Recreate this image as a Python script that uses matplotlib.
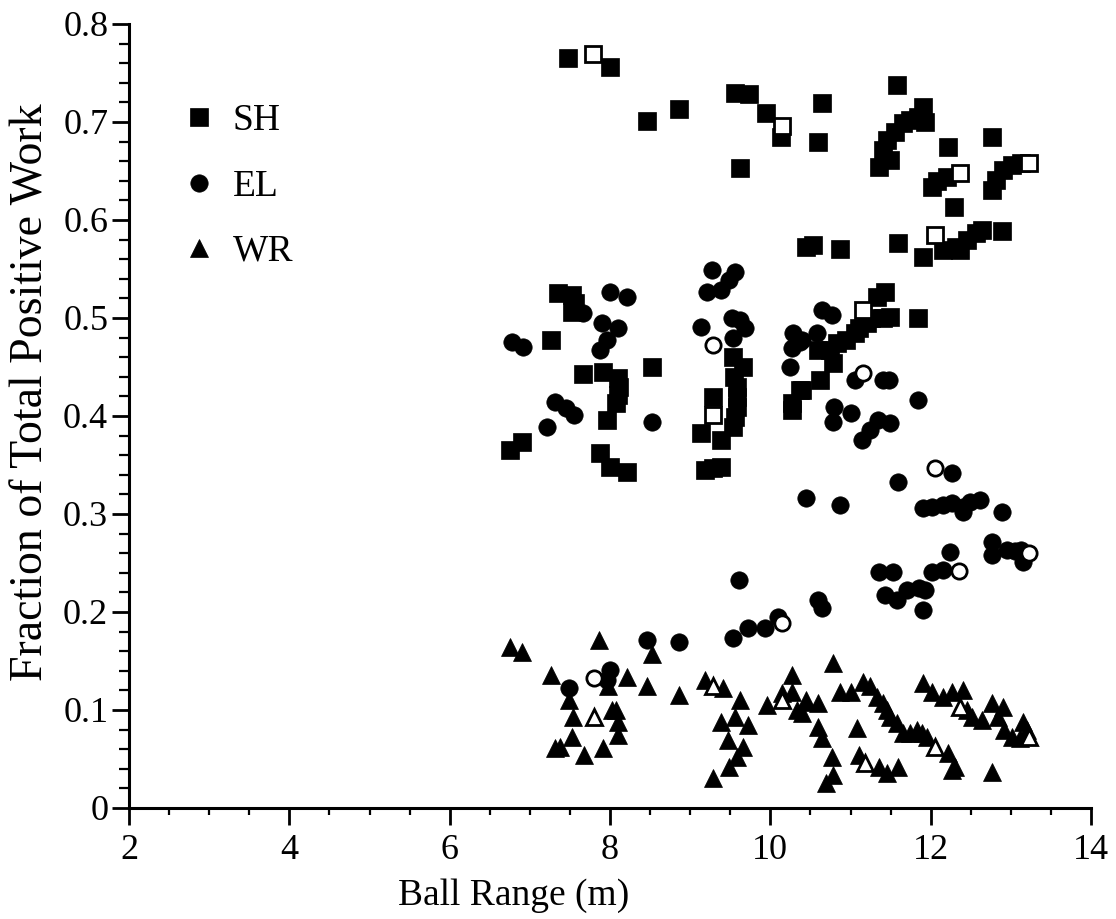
import matplotlib
matplotlib.use('Agg')
import matplotlib.pyplot as plt
from matplotlib.ticker import MultipleLocator

# SH (shoulder) - filled squares
sh_x = [7.47, 8.00, 8.46, 8.86, 9.56, 9.73, 9.94, 10.13, 9.62, 10.65, 10.60, 11.58,
        11.36, 11.49, 11.40, 11.46, 11.55, 11.65, 11.74, 11.84, 11.93, 11.90,
        12.21, 12.76, 12.02, 12.20, 12.08, 12.29,
        12.76, 12.82, 12.90, 13.02, 13.13,
        11.90, 12.15, 12.32, 12.45, 12.57, 12.64, 12.36, 12.89, 11.59,
        10.45, 10.53, 10.87,
        11.43, 11.33, 11.49, 11.84, 11.40, 11.25, 11.20, 11.10, 11.05, 10.95, 10.83, 10.74,
        10.78, 10.62, 10.40, 10.59, 10.37, 10.27, 10.27,
        7.35, 7.52, 7.56, 7.53, 7.26, 7.66, 7.91, 8.10, 8.11, 8.10, 8.08, 7.96, 8.53,
        7.87, 8.00, 8.21, 6.75, 6.90,
        9.53, 9.66, 9.58, 9.58, 9.58, 9.56, 9.53, 9.28, 9.14, 9.39, 9.18, 9.28, 9.39, 9.55]
sh_y = [0.765, 0.756, 0.701, 0.713, 0.730, 0.729, 0.709, 0.685, 0.653, 0.719, 0.680, 0.738,
        0.654, 0.661, 0.671, 0.682, 0.690, 0.699, 0.702, 0.705, 0.700, 0.715,
        0.674, 0.685, 0.634, 0.644, 0.640, 0.613,
        0.631, 0.641, 0.651, 0.656, 0.658,
        0.562, 0.569, 0.572, 0.580, 0.587, 0.590, 0.569, 0.589, 0.577,
        0.572, 0.574, 0.570,
        0.527, 0.521, 0.501, 0.500, 0.500, 0.500, 0.495, 0.490, 0.485, 0.478, 0.474, 0.467,
        0.454, 0.437, 0.427, 0.467, 0.427, 0.413, 0.406,
        0.526, 0.523, 0.515, 0.506, 0.478, 0.443, 0.445, 0.439, 0.430, 0.421, 0.413, 0.396, 0.450,
        0.362, 0.348, 0.343, 0.365, 0.373,
        0.460, 0.450, 0.430, 0.419, 0.409, 0.399, 0.389, 0.419, 0.383, 0.376, 0.345, 0.347, 0.348, 0.440]
sh_open_x = [7.79, 10.15, 12.36, 13.23, 12.05, 11.15, 9.28]
sh_open_y = [0.769, 0.696, 0.648, 0.658, 0.585, 0.508, 0.401]

# EL (elbow) - filled circles
el_x = [6.78, 6.91, 7.21, 7.32, 7.45, 7.55, 8.00, 8.21, 7.66, 7.90, 8.10, 7.96, 7.87, 8.53,
        9.14, 9.52, 9.62, 9.68, 9.53, 9.27, 9.56, 9.21, 9.39, 9.49,
        10.28, 10.37, 10.27, 10.24, 10.65, 10.77, 10.58, 10.40,
        11.05, 11.40, 11.48, 11.84, 10.80, 11.01, 10.78, 11.34, 11.49, 11.24, 11.14,
        12.27, 11.59, 10.45, 10.87, 11.90, 12.02, 12.15, 12.27, 12.40, 12.49, 12.61, 12.40, 12.89,
        12.24, 12.02, 12.15, 12.76, 12.77, 12.95, 13.13, 13.15, 13.05,
        11.36, 11.53, 11.43, 11.58, 11.70, 11.86, 11.93, 11.90, 10.59, 10.65,
        9.61, 9.53, 9.72, 9.93, 10.09, 8.46, 8.86, 8.00, 7.96, 7.49]
el_y = [0.476, 0.470, 0.389, 0.414, 0.408, 0.401, 0.527, 0.521, 0.505, 0.495, 0.490, 0.478, 0.467, 0.394,
        0.491, 0.500, 0.498, 0.490, 0.480, 0.549, 0.547, 0.527, 0.529, 0.539,
        0.485, 0.476, 0.469, 0.450, 0.508, 0.503, 0.485, 0.478,
        0.437, 0.437, 0.437, 0.416, 0.409, 0.403, 0.394, 0.396, 0.393, 0.386, 0.376,
        0.342, 0.333, 0.316, 0.309, 0.306, 0.307, 0.309, 0.311, 0.307, 0.312, 0.314, 0.302, 0.302,
        0.261, 0.241, 0.243, 0.271, 0.258, 0.263, 0.263, 0.251, 0.262,
        0.241, 0.241, 0.217, 0.212, 0.222, 0.224, 0.222, 0.202, 0.212, 0.204,
        0.233, 0.173, 0.184, 0.184, 0.195, 0.171, 0.169, 0.141, 0.131, 0.122]
el_open_x = [9.28, 11.16, 12.05, 12.35, 13.23, 10.14, 7.80]
el_open_y = [0.472, 0.444, 0.347, 0.242, 0.260, 0.189, 0.133]

# WR (wrist) - filled triangles
wr_x = [6.75, 6.90, 7.27, 7.86, 8.53, 8.21, 8.46, 8.86, 7.49, 7.54, 7.97, 8.02, 8.08, 8.10, 8.10,
        7.52, 7.37, 7.31, 7.67, 7.91,
        9.18, 9.41, 9.62, 9.39, 9.56, 9.72, 9.47, 9.66, 9.58, 9.49, 9.28, 9.96,
        10.27, 10.27, 10.14, 10.33, 10.45,
        10.78, 10.87, 11.01, 11.15, 11.24,
        11.33, 11.40, 11.45, 11.49, 11.58, 11.65, 11.74, 11.83, 11.89, 11.95,
        12.21, 12.30, 12.27,
        10.45, 10.59, 10.40, 10.59, 10.65, 10.77, 10.78, 10.70,
        11.08, 11.11, 11.36, 11.45, 11.59,
        11.90, 12.02, 12.15, 12.27, 12.40, 12.45, 12.52, 12.64,
        12.76, 12.90, 12.84, 12.92, 13.02, 13.15, 13.11, 13.20, 12.77]
wr_y = [0.164, 0.159, 0.136, 0.171, 0.157, 0.134, 0.124, 0.115, 0.110, 0.093, 0.124, 0.100, 0.100, 0.088, 0.074,
        0.072, 0.062, 0.061, 0.054, 0.061,
        0.131, 0.122, 0.110, 0.088, 0.093, 0.085, 0.069, 0.062, 0.052, 0.042, 0.031, 0.105,
        0.136, 0.118, 0.117, 0.100, 0.108,
        0.148, 0.118, 0.118, 0.129, 0.124,
        0.113, 0.107, 0.100, 0.093, 0.087, 0.077, 0.077, 0.080, 0.077, 0.072,
        0.056, 0.042, 0.039,
        0.110, 0.107, 0.097, 0.083, 0.071, 0.052, 0.034, 0.026,
        0.082, 0.054, 0.042, 0.036, 0.042,
        0.128, 0.118, 0.113, 0.118, 0.120, 0.100, 0.093, 0.090,
        0.107, 0.103, 0.093, 0.080, 0.072, 0.088, 0.071, 0.080, 0.037]
wr_open_x = [7.80, 9.28, 10.15, 11.18, 12.05, 12.36, 13.23]
wr_open_y = [0.093, 0.124, 0.110, 0.046, 0.062, 0.103, 0.072]

plt.rcParams['font.family'] = ['Liberation Serif', 'DejaVu Serif']

fig = plt.figure(figsize=(11.16, 9.19), dpi=100)
ax = fig.add_axes([0.1156, 0.1208, 0.862, 0.8531])

ms = 12.5
ax.plot(sh_x, sh_y, 's', color='black', ms=ms, mew=0.5, ls='none', label='SH')
ax.plot(el_x, el_y, 'o', color='black', ms=ms, mew=0.5, ls='none', label='EL')
ax.plot(wr_x, wr_y, '^', color='black', ms=ms, mew=0.5, ls='none', label='WR')
ax.plot(sh_open_x, sh_open_y, 's', mfc='white', mec='black', ms=ms - 1.5, mew=2, ls='none')
ax.plot(el_open_x, el_open_y, 'o', mfc='white', mec='black', ms=ms - 1.5, mew=2, ls='none')
ax.plot(wr_open_x, wr_open_y, '^', mfc='white', mec='black', ms=ms - 1.5, mew=2, ls='none')

ax.set_xlim(2, 14)
ax.set_ylim(0, 0.8)
ax.set_xticks([2, 4, 6, 8, 10, 12, 14])
ax.set_yticks([0, 0.1, 0.2, 0.3, 0.4, 0.5, 0.6, 0.7, 0.8])
ax.set_yticklabels(['0', '0.1', '0.2', '0.3', '0.4', '0.5', '0.6', '0.7', '0.8'])
ax.xaxis.set_minor_locator(MultipleLocator(0.5))
ax.yaxis.set_minor_locator(MultipleLocator(0.02))

for s in ['top', 'right']:
    ax.spines[s].set_visible(False)
for s in ['left', 'bottom']:
    ax.spines[s].set_linewidth(2.2)

ax.tick_params(axis='both', which='major', direction='out', width=2, labelsize=26)
ax.tick_params(axis='x', which='major', length=12, pad=7)
ax.tick_params(axis='y', which='major', length=12, pad=3)
ax.tick_params(axis='x', which='minor', direction='out', length=5, width=1.6)
ax.tick_params(axis='y', which='minor', direction='out', length=7, width=1.6)

ax.set_xlabel('Ball Range (m)', fontsize=27)
ax.set_ylabel('Fraction of Total Positive Work', fontsize=33)
ax.xaxis.set_label_coords(0.40, -0.090)
ax.yaxis.set_label_coords(-0.080, 0.53)

leg = ax.legend(loc='upper left', bbox_to_anchor=(0.055, 0.898), frameon=False, fontsize=27,
                borderpad=0, borderaxespad=0, handlelength=0.9, handletextpad=0.45,
                labelspacing=0.82, markerscale=1.0)

plt.savefig('out.png', dpi=100)
